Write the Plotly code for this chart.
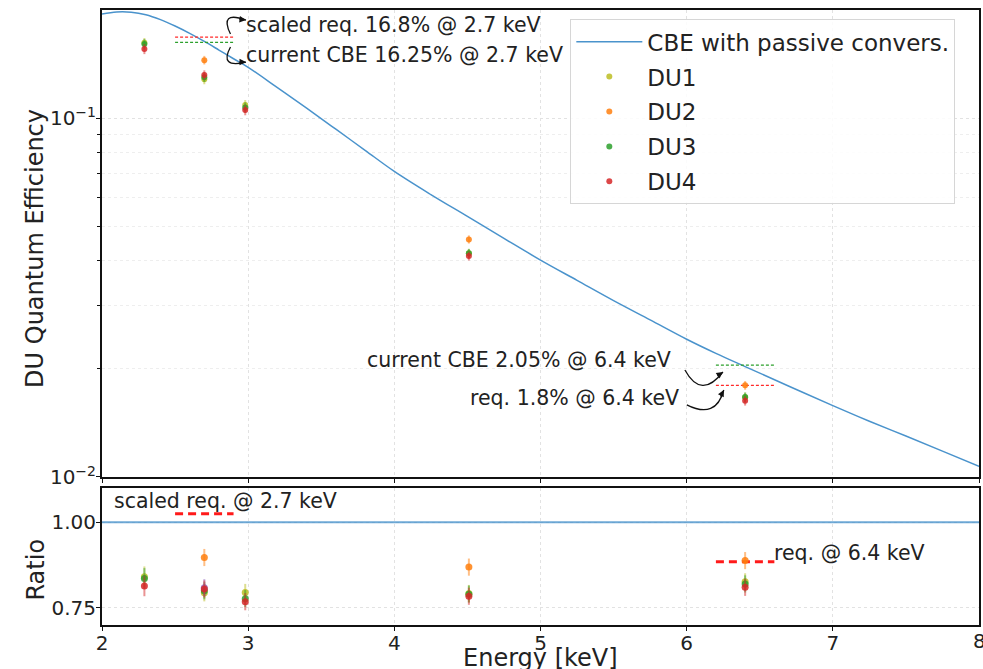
import math
import plotly.graph_objects as go

# ---------------- data ----------------
curve_energy = [2.0, 2.1, 2.2, 2.3, 2.4, 2.5, 2.6, 2.7, 2.8, 2.9, 3.0, 3.2, 3.4, 3.6, 3.8, 4.0,
                4.25, 4.5, 4.75, 5.0, 5.25, 5.5, 5.75, 6.0, 6.2, 6.4, 6.7, 7.0, 7.25, 7.5, 7.75, 8.0]
curve_qe = [0.1950, 0.1975, 0.1972, 0.1940, 0.1880, 0.1805, 0.1722, 0.1635, 0.1547, 0.1463, 0.1385,
            0.1215, 0.1065, 0.0931, 0.0813, 0.0710, 0.0612, 0.0532, 0.0462, 0.0402, 0.0353, 0.0310,
            0.0274, 0.0242, 0.0221, 0.0203, 0.0179, 0.0158, 0.0143, 0.0130, 0.0118, 0.0107]

energies = [2.29, 2.70, 2.98, 4.51, 6.40]
qe_du1 = [0.1621, 0.1282, 0.1087, 0.0420, 0.01667]
qe_du2 = [None, 0.1450, None, 0.0459, 0.0180]
qe_du3 = [0.1609, 0.1300, 0.1070, 0.0420, 0.0167]
qe_du4 = [0.1557, 0.1318, 0.1053, 0.0413, 0.01631]
qe_err = [0.005, 0.004, 0.0035, 0.0012, 0.0005]

ratio_du1 = [0.841, 0.794, 0.795, 0.792, 0.826]
ratio_du2 = [None, 0.897, None, 0.869, 0.888]
ratio_du3 = [0.836, 0.800, 0.777, 0.790, 0.820]
ratio_du4 = [0.814, 0.805, 0.768, 0.784, 0.810]
ratio_extra_energy = [2.70]
ratio_extra = [0.809]
ratio_err = [0.03, 0.025, 0.025, 0.025, 0.025]

ratio_ref_energy = [2.0, 8.0]
ratio_ref = [1.0, 1.0]

band_27 = [2.5, 2.9]
band_64 = [6.2, 6.6]
scaled_req_27 = 0.168
cbe_27 = 0.1625
req_64 = 0.018
cbe_64 = 0.0205
ratio_scaled_req_27 = 1.025
ratio_req_64 = 0.885

x_ticks = [2, 3, 4, 5, 6, 7]
x_last_tick = 8

du_names = ["DU1", "DU2", "DU3", "DU4"]
du_colors = ["#bcbd22", "#ff7f0e", "#2ca02c", "#d62728"]
du_err_colors = ["rgba(188,189,34,0.5)", "rgba(255,127,14,0.5)", "rgba(44,160,44,0.5)", "rgba(214,39,40,0.5)"]
qe_series = [qe_du1, qe_du2, qe_du3, qe_du4]
ratio_series = [ratio_du1, ratio_du2, ratio_du3, ratio_du4]

FONT = "DejaVu Sans"
TXT = "#222222"
CBE_COLOR = "#4a93cc"

fig = go.Figure()

# CBE curve
fig.add_trace(go.Scatter(x=curve_energy, y=curve_qe, mode="lines",
                         name="CBE with passive convers.",
                         line=dict(color=CBE_COLOR, width=1.5, shape="spline"), xaxis="x", yaxis="y",
                         legendgroup="g0"))

# requirement lines (top)
fig.add_trace(go.Scatter(x=band_27, y=[scaled_req_27] * 2, mode="lines", showlegend=False,
                         line=dict(color="#ff2a2a", width=1.3, dash="3px,2px"), xaxis="x", yaxis="y"))
fig.add_trace(go.Scatter(x=band_27, y=[cbe_27] * 2, mode="lines", showlegend=False,
                         line=dict(color="#2ca02c", width=1.3, dash="3px,2px"), xaxis="x", yaxis="y"))
fig.add_trace(go.Scatter(x=band_64, y=[cbe_64] * 2, mode="lines", showlegend=False,
                         line=dict(color="#2ca02c", width=1.3, dash="3px,2px"), xaxis="x", yaxis="y"))
fig.add_trace(go.Scatter(x=band_64, y=[req_64] * 2, mode="lines", showlegend=False,
                         line=dict(color="#ff2a2a", width=1.3, dash="3px,2px"), xaxis="x", yaxis="y"))

# DU points (top)
for i, (nm, col, ecol, ys) in enumerate(zip(du_names, du_colors, du_err_colors, qe_series)):
    fig.add_trace(go.Scatter(x=energies, y=ys, mode="markers", name=nm, legendgroup=f"g{i+1}",
                             marker=dict(color=col, size=6, opacity=0.85),
                             error_y=dict(type="data", array=qe_err, color=ecol, thickness=2, width=0),
                             xaxis="x", yaxis="y"))

# ratio panel
fig.add_trace(go.Scatter(x=ratio_ref_energy, y=ratio_ref, mode="lines", showlegend=False,
                         line=dict(color="rgba(74,147,204,0.8)", width=2.2), xaxis="x2", yaxis="y2"))
fig.add_trace(go.Scatter(x=band_27, y=[ratio_scaled_req_27] * 2, mode="lines", showlegend=False,
                         line=dict(color="#ff1a1a", width=3, dash="8px,5px"), xaxis="x2", yaxis="y2"))
fig.add_trace(go.Scatter(x=band_64, y=[ratio_req_64] * 2, mode="lines", showlegend=False,
                         line=dict(color="#ff1a1a", width=3, dash="8px,5px"), xaxis="x2", yaxis="y2"))
for i, (nm, col, ecol, ys) in enumerate(zip(du_names, du_colors, du_err_colors, ratio_series)):
    if i == 3:
        fig.add_trace(go.Scatter(x=ratio_extra_energy, y=ratio_extra, mode="markers", showlegend=False,
                                 marker=dict(color="#9467bd", size=7, opacity=0.85),
                                 error_y=dict(type="data", array=[0.025], color="rgba(148,103,189,0.5)",
                                              thickness=2, width=0),
                                 xaxis="x2", yaxis="y2"))
    fig.add_trace(go.Scatter(x=energies, y=ys, mode="markers", showlegend=False,
                             marker=dict(color=col, size=7, opacity=0.85),
                             error_y=dict(type="data", array=ratio_err, color=ecol, thickness=2, width=0),
                             xaxis="x2", yaxis="y2"))

# ---------------- layout ----------------
TOP_Y0 = 0.2407
BOT_Y1 = 0.2228
LOG_TOP = math.log10(0.2)


def top_paper(x, logv):
    return (x - 2) / 6, TOP_Y0 + (1 - TOP_Y0) * (logv + 2) / (LOG_TOP + 2)


# curved arrows: (start, control, end) in (keV, log10 QE); head offset in px
arrows = [
    ((2.879, -0.766), (2.80, -0.700), (2.985, -0.727), (-8, -1)),
    ((2.879, -0.802), (2.80, -0.862), (2.985, -0.844), (-8, 0)),
    ((5.988, -1.702), (6.10, -1.785), (6.248, -1.7075), (-7, 5)),
    ((6.001, -1.799), (6.20, -1.840), (6.254, -1.7577), (-4, 8)),
]
shapes = []
annotations = []
for s, c, e, (hx, hy) in arrows:
    sx, sy = top_paper(*s)
    cx, cy = top_paper(*c)
    ex, ey = top_paper(*e)
    shapes.append(dict(type="path", xref="paper", yref="paper",
                       path=f"M {sx},{sy} Q {cx},{cy} {ex},{ey}",
                       line=dict(color="#111111", width=1.3)))
    annotations.append(dict(x=ex, y=ey, xref="paper", yref="paper", text="", showarrow=True,
                            ax=hx, ay=hy, arrowhead=2, arrowsize=1, arrowwidth=1.3,
                            arrowcolor="#111111", standoff=0, startstandoff=0))

txt_font = dict(family=FONT, size=20.5, color=TXT)
title_font = dict(family=FONT, size=24, color=TXT)
tick_font = dict(family=FONT, size=20, color=TXT)
annotations += [
    dict(x=2.973, y=-0.741, xref="x", yref="y", text="scaled req. 16.8% @ 2.7 keV", showarrow=False,
         xanchor="left", yanchor="middle", font=txt_font),
    dict(x=2.973, y=-0.8245, xref="x", yref="y", text="current CBE 16.25% @ 2.7 keV", showarrow=False,
         xanchor="left", yanchor="middle", font=txt_font),
    dict(x=5.905, y=-1.674, xref="x", yref="y", text="current CBE 2.05% @ 6.4 keV", showarrow=False,
         xanchor="right", yanchor="middle", font=txt_font),
    dict(x=5.962, y=-1.780, xref="x", yref="y", text="req. 1.8% @ 6.4 keV", showarrow=False,
         xanchor="right", yanchor="middle", font=txt_font),
    dict(x=2.07, y=1.061, xref="x2", yref="y2", text="scaled req. @ 2.7 keV", showarrow=False,
         xanchor="left", yanchor="middle", font=txt_font),
    dict(x=6.587, y=0.911, xref="x2", yref="y2", text="req. @ 6.4 keV", showarrow=False,
         xanchor="left", yanchor="middle", font=txt_font),
    # last x tick label (partly beyond the figure edge, as in the original)
    dict(x=x_last_tick, y=0, xref="x2", yref="paper", text=str(x_last_tick), showarrow=False,
         xanchor="center", yanchor="top", yshift=-2, font=tick_font),
    # axis titles
    dict(x=-0.0758, y=(TOP_Y0 + 1) / 2 - 0.008, xref="paper", yref="paper", text="DU Quantum Efficiency",
         textangle=-90, showarrow=False, xanchor="center", yanchor="middle", font=title_font),
    dict(x=-0.0758, y=0.0894, xref="paper", yref="paper", text="Ratio",
         textangle=-90, showarrow=False, xanchor="center", yanchor="middle", font=title_font),
    dict(x=0.5, y=0, xref="paper", yref="paper", text="Energy [keV]", showarrow=False,
         xanchor="center", yanchor="top", yshift=-17, font=title_font),
]

axis_common = dict(showline=True, linecolor="#111111", linewidth=2, mirror=True,
                   ticks="outside", ticklen=4, tickwidth=1.2, tickcolor="#111111",
                   showgrid=True, gridcolor="#e2e2e2", griddash="dot", gridwidth=1,
                   zeroline=False, tickfont=tick_font)

minor_vals = [0.02, 0.03, 0.04, 0.05, 0.06, 0.07, 0.08, 0.09]

fig.update_layout(
    width=983, height=669,
    margin=dict(l=102, r=2, t=10, b=44),
    paper_bgcolor="white", plot_bgcolor="white",
    font=dict(family=FONT, color=TXT),
    showlegend=True,
    legend=dict(x=0.534, y=0.985, xanchor="left", yanchor="top",
                font=dict(family=FONT, size=23, color=TXT),
                bgcolor="rgba(255,255,255,0.85)", bordercolor="#d6d6d6", borderwidth=1,
                tracegroupgap=2, itemwidth=66),
    xaxis=dict(domain=[0, 1], anchor="y", range=[2, 8], showticklabels=False,
               tickvals=x_ticks + [x_last_tick], **axis_common),
    yaxis=dict(domain=[TOP_Y0, 1], anchor="x", type="log", range=[-2, LOG_TOP],
               tickvals=[0.01, 0.1], ticktext=["10<sup>−2</sup>", "10<sup>−1</sup>"],
               ticklabelstandoff=-4,
               minor=dict(tickvals=minor_vals, ticks="outside", ticklen=3, tickcolor="#111111",
                          showgrid=True, gridcolor="#eeeeee", griddash="dot"),
               **axis_common),
    xaxis2=dict(domain=[0, 1], anchor="y2", range=[2, 8], tickvals=x_ticks,
                ticklabelstandoff=-5, **axis_common),
    yaxis2=dict(domain=[0, BOT_Y1], anchor="x2", range=[0.7, 1.1], tickvals=[0.75, 1.0],
                ticktext=["0.75", "1.00"], ticklabelstandoff=-4, **axis_common),
    shapes=shapes,
    annotations=annotations,
)

fig.write_html("out.html", config={"displayModeBar": False},
               post_script="document.body.style.margin='0';"
                           "document.body.style.overflow='hidden';"
                           "document.documentElement.style.overflow='hidden';")
